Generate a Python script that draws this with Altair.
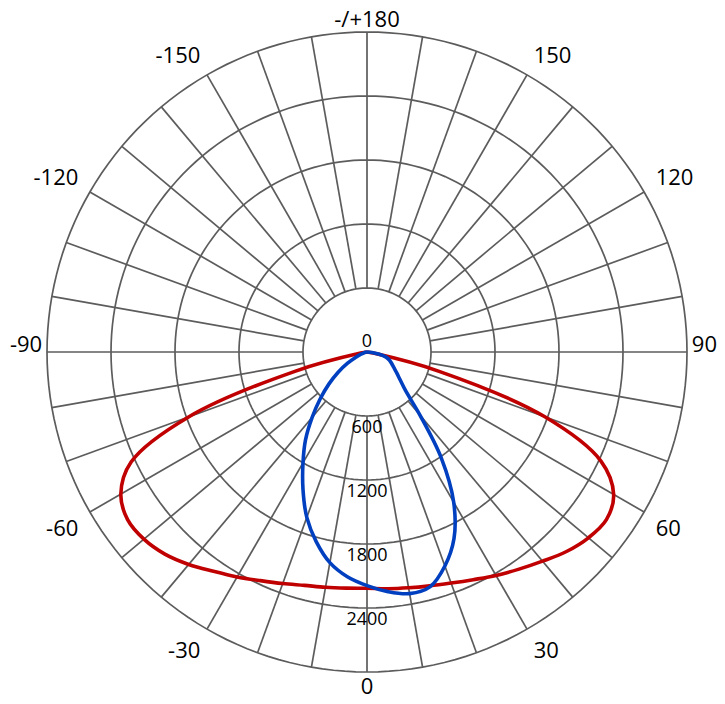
import altair as alt
import pandas as pd

# ---------------- data ----------------
angles = list(range(-90, 91, 5))  # gamma angle, 0 = straight down, + to the right

red_values = [0, 0, 60, 700, 1780, 2440, 2665, 2740, 2730, 2680, 2600, 2510, 2435,
              2365, 2310, 2265, 2240, 2222, 2215, 2228, 2245, 2270, 2305, 2355, 2420,
              2485, 2560, 2645, 2710, 2740, 2670, 2420, 1770, 700, 60, 0, 0]

blue_values = [0, 5, 15, 30, 60, 115, 210, 330, 465, 620, 800, 1005, 1200,
               1420, 1650, 1840, 2005, 2115, 2190, 2255, 2300, 2280, 2135, 1930, 1625,
               1215, 770, 510, 405, 340, 290, 255, 225, 185, 110, 45, 0]

ring_values = [600, 1200, 1800, 2400, 3000]
ring_label_values = [0, 600, 1200, 1800, 2400]
ring_label_texts = ["0", "600", "1200", "1800", "2400"]
spoke_angles = list(range(0, 360, 10))
angle_label_angles = [0, 30, 60, 90, 120, 150, 180, -150, -120, -90, -60, -30]
angle_label_texts = ["0", "30", "60", "90", "120", "150", "-/+180",
                     "-150", "-120", "-90", "-60", "-30"]

R_INNER = 600
R_OUTER = 3000
GAP_DIAG = 125     # label gap beyond the outer ring, in value units
GAP_AXIS = 45

GRID = "#5c5c5c"
RED = "#c00000"
BLUE = "#0040c0"
FONT = "Open Sans"

xs = alt.Scale(domain=[-R_OUTER, R_OUTER], nice=False, zero=False)
ys = alt.Scale(domain=[-R_OUTER, R_OUTER], nice=False, zero=False)

XPOS = "datum.v * sin(datum.a * PI / 180)"
YPOS = "-datum.v * cos(datum.a * PI / 180)"

# ---------------- grid rings ----------------
ring_rows = [{"ring": r, "a": a, "v": r} for r in ring_values for a in range(0, 361, 2)]
rings = alt.Chart(pd.DataFrame(ring_rows)).transform_calculate(
    x=XPOS, y=YPOS
).mark_line(stroke=GRID, strokeWidth=1.7).encode(
    x=alt.X("x:Q", scale=xs, axis=None),
    y=alt.Y("y:Q", scale=ys, axis=None),
    detail="ring:N",
    order=alt.Order("a:Q"),
)

# ---------------- spokes ----------------
spokes = alt.Chart(pd.DataFrame({"a": spoke_angles})).transform_calculate(
    x1=f"{R_INNER} * sin(datum.a * PI / 180)",
    y1=f"-{R_INNER} * cos(datum.a * PI / 180)",
    x2=f"{R_OUTER} * sin(datum.a * PI / 180)",
    y2=f"-{R_OUTER} * cos(datum.a * PI / 180)",
).mark_rule(stroke=GRID, strokeWidth=1.7).encode(
    x=alt.X("x1:Q", scale=xs, axis=None),
    y=alt.Y("y1:Q", scale=ys, axis=None),
    x2="x2:Q",
    y2="y2:Q",
)

# ---------------- curves ----------------
curve_df = pd.concat([
    pd.DataFrame({"a": angles, "v": red_values, "plane": "C0-C180"}),
    pd.DataFrame({"a": angles, "v": blue_values, "plane": "C90-C270"}),
])
curves = alt.Chart(curve_df).transform_calculate(
    x=XPOS, y=YPOS
).mark_line(strokeWidth=3.6, interpolate="catmull-rom").encode(
    x=alt.X("x:Q", scale=xs, axis=None),
    y=alt.Y("y:Q", scale=ys, axis=None),
    color=alt.Color("plane:N", scale=alt.Scale(domain=["C0-C180", "C90-C270"],
                                               range=[RED, BLUE]), legend=None),
    order=alt.Order("a:Q"),
)

# ---------------- ring labels ----------------
rl_df = pd.DataFrame({"v": ring_label_values, "t": ring_label_texts, "a": 0})
ring_lbl_base = alt.Chart(rl_df).transform_calculate(x=XPOS, y=YPOS)
ring_lbl_zero = ring_lbl_base.transform_filter("datum.v == 0").mark_text(
    font=FONT, fontSize=18, color="black", baseline="middle", dy=-10
).encode(x=alt.X("x:Q", scale=xs, axis=None), y=alt.Y("y:Q", scale=ys, axis=None), text="t:N")
ring_lbl_rest = ring_lbl_base.transform_filter("datum.v > 0").mark_text(
    font=FONT, fontSize=18, color="black", baseline="middle", dy=12
).encode(x=alt.X("x:Q", scale=xs, axis=None), y=alt.Y("y:Q", scale=ys, axis=None), text="t:N")

# ---------------- angle labels ----------------
al_rows = []
for a, t in zip(angle_label_angles, angle_label_texts):
    if a in (0, 180):
        align = "center"
    elif a > 0:
        align = "left"
    else:
        align = "right"
    baseline = "top" if abs(a) < 90 else "alphabetic"
    gap = GAP_AXIS if a % 90 == 0 else GAP_DIAG
    al_rows.append({"a": a, "t": t, "v": R_OUTER + gap, "grp": f"{align}|{baseline}"})
al_df = pd.DataFrame(al_rows)

angle_layers = []
for grp in sorted(set(al_df["grp"])):
    align, baseline = grp.split("|")
    angle_layers.append(
        alt.Chart(al_df).transform_filter(f"datum.grp == '{grp}'").transform_calculate(
            x=XPOS, y=YPOS
        ).mark_text(font=FONT, fontSize=22, color="black", align=align, baseline=baseline).encode(
            x=alt.X("x:Q", scale=xs, axis=None),
            y=alt.Y("y:Q", scale=ys, axis=None),
            text="t:N",
        )
    )

chart = alt.layer(rings, spokes, curves, ring_lbl_zero, ring_lbl_rest, *angle_layers).properties(
    width=640,
    height=640,
    padding={"left": 39, "top": 24, "right": 30, "bottom": 24},
    autosize=alt.AutoSizeParams(type="none"),
    background="white",
).configure_view(strokeWidth=0)

chart.save("out.html", embed_options={"renderer": "svg", "actions": False})
